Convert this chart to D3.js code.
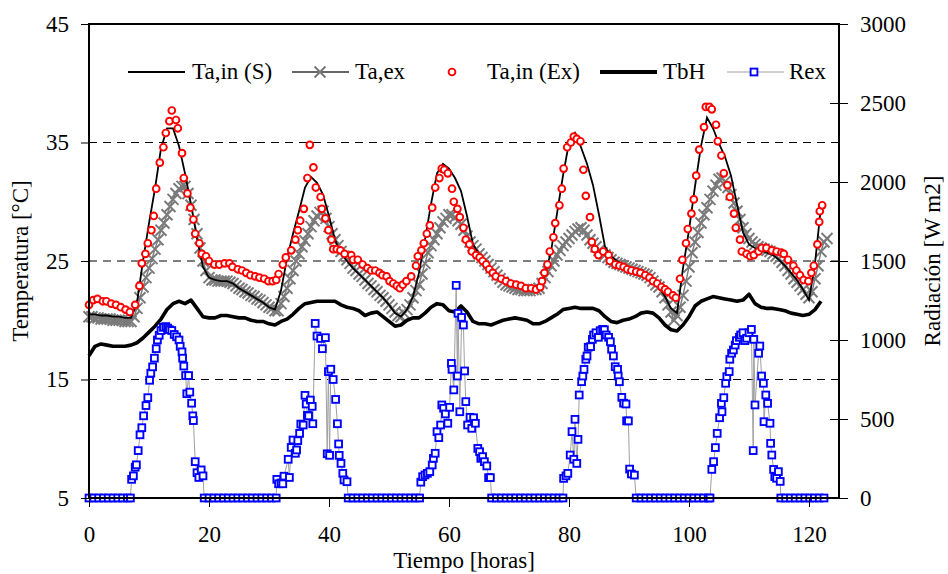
<!DOCTYPE html>
<html>
<head>
<meta charset="utf-8">
<script src="https://cdn.jsdelivr.net/npm/d3@7"></script>
<style>
  body { margin: 0; background: #fff; }
</style>
</head>
<body>
<svg id="chart" width="948" height="574"></svg>
<script>
// ticks
const timeTicks = [0, 20, 40, 60, 80, 100, 120];
const tempTicks = [5, 15, 25, 35, 45];
const radTicks = [0, 500, 1000, 1500, 2000, 2500, 3000];
const gridTemps = [15, 25, 35];
const legendNames = ["Ta,in (S)", "Ta,ex", "Ta,in (Ex)", "TbH", "Rex"];

// Ta,in (S) - simulated, hourly from t = 0
const taInS = [
  20.5,20.5,20.4,20.4,20.3,20.3,20.2,20.2,21.5,25.0,
  28.2,31.1,34.5,36.2,36.2,34.7,32.4,29.8,26.9,24.5,
  23.6,23.4,23.3,23.3,23.1,22.7,22.4,22.1,21.8,21.5,
  21.1,20.9,22.5,25.2,27.3,29.2,31.2,32.1,31.6,30.6,
  28.8,26.8,25.6,25.0,24.4,23.9,23.4,22.9,22.4,21.9,
  21.3,20.6,20.3,20.9,22.0,24.0,26.8,29.8,32.4,33.2,
  32.8,32.0,30.9,28.8,26.4,25.6,25.0,24.3,23.8,23.4,
  23.1,22.9,22.7,22.7,22.8,23.0,23.8,25.8,29.0,32.2,
  35.0,35.8,34.6,33.2,31.4,28.9,26.2,25.4,25.0,24.7,
  24.4,24.2,24.0,23.8,23.4,22.8,22.0,21.0,20.6,24.4,
  27.6,31.3,34.7,37.1,36.2,34.9,33.8,32.2,29.8,27.4,
  26.4,26.1,25.9,25.7,25.5,25.1,24.6,24.0,23.4,22.6,
  21.7,24.8,29.6
];

// TbH, hourly from t = 0
const tbH = [
  17.0,17.8,18.0,17.9,17.8,17.8,17.8,17.9,18.1,18.5,
  19.0,19.5,20.1,20.9,21.4,21.6,21.4,21.7,21.0,20.3,
  20.2,20.2,20.4,20.4,20.3,20.2,20.2,20.0,19.9,19.9,
  19.7,19.6,19.9,20.1,20.5,21.0,21.4,21.5,21.6,21.6,
  21.6,21.6,21.3,21.1,21.0,20.8,20.4,20.6,20.7,20.3,
  19.9,19.5,19.6,20.0,20.2,20.2,20.6,21.1,21.4,21.3,
  20.8,20.7,21.2,20.7,19.9,19.7,19.7,19.6,19.8,20.0,
  20.1,20.2,20.1,20.0,19.7,19.7,19.9,20.2,20.5,20.9,
  21.0,21.1,21.0,21.0,21.0,20.8,20.3,19.9,19.8,20.0,
  20.1,20.3,20.6,20.7,20.6,20.2,19.6,19.2,19.1,19.6,
  20.3,21.2,21.6,21.8,22.0,21.9,21.8,21.7,21.6,21.7,
  22.2,21.4,21.1,21.0,21.0,20.9,20.8,20.6,20.5,20.4,
  20.5,20.9,21.6
];

// Ta,ex, every half hour from t = 0
const taEx = [
  20.3,20.3,20.2,20.2,20.1,20.1,20.1,20.1,20.0,20.0,
  20.0,20.0,19.9,19.9,19.9,20.3,21.0,21.9,22.8,23.6,
  24.4,25.2,26.0,26.8,27.6,28.2,28.9,29.6,30.2,30.7,
  31.1,31.3,31.3,30.7,29.7,28.5,27.3,26.1,25.0,24.2,
  23.6,23.4,23.4,23.3,23.3,23.3,23.3,23.2,23.1,22.9,
  22.7,22.6,22.4,22.3,22.1,22.0,21.8,21.7,21.5,21.3,
  21.1,21.0,20.8,20.8,21.4,22.0,22.7,23.5,24.2,25.0,
  25.6,26.2,26.7,27.3,27.9,28.4,28.8,29.1,29.2,28.6,
  27.9,27.3,26.8,26.3,25.8,25.4,25.1,24.8,24.4,24.2,
  23.9,23.7,23.4,23.1,22.9,22.6,22.4,22.1,21.9,21.6,
  21.3,21.0,20.7,20.4,20.3,20.6,20.9,21.3,21.9,22.5,
  23.0,23.9,24.8,25.7,26.3,26.8,27.3,27.8,28.3,28.6,
  28.9,28.9,28.7,28.4,28.1,27.6,27.1,26.6,26.3,26.0,
  25.6,25.3,25.0,24.7,24.4,24.1,23.8,23.5,23.2,23.0,
  22.9,22.8,22.7,22.6,22.6,22.5,22.5,22.5,22.6,22.6,
  22.7,23.1,23.6,24.1,24.6,25.0,25.5,25.9,26.3,26.6,
  26.9,27.2,27.5,27.7,27.8,27.6,27.2,26.8,26.5,26.2,
  25.9,25.7,25.5,25.3,25.1,24.9,24.8,24.7,24.6,24.5,
  24.4,24.3,24.2,24.1,24.0,23.9,23.8,23.6,23.3,23.0,
  22.8,22.4,21.9,21.3,20.7,20.0,20.4,21.1,22.1,23.3,
  24.5,25.7,26.6,27.4,28.2,28.9,29.5,30.2,30.9,31.4,
  31.9,32.0,31.7,31.2,30.6,29.9,29.2,28.5,27.8,27.3,
  26.9,26.6,26.4,26.2,26.1,26.0,25.9,25.8,25.6,25.4,
  25.2,24.9,24.6,24.2,23.9,23.5,23.2,22.9,22.6,22.2,
  21.9,22.4,23.5,24.6,25.8,26.6,26.9
];

// Ta,in (Ex) - measured [hour, °C]
const taInEx = [
  [0.0,21.3],[0.7,21.7],[1.4,21.8],[2.3,21.6],[2.9,21.6],[3.7,21.4],[4.5,21.3],[5.3,21.1],[6.1,20.9],[6.8,20.7],
  [7.7,21.3],[8.4,22.9],[8.8,24.8],[9.4,25.6],[9.8,26.5],[10.4,27.6],[10.8,28.8],[11.2,31.1],[11.8,33.3],[12.4,34.6],
  [12.8,35.8],[13.4,36.8],[13.8,37.7],[14.5,36.9],[14.8,36.2],[15.5,34.1],[15.8,32.0],[16.4,30.7],[16.9,29.5],[17.4,28.5],
  [17.7,27.3],[18.4,26.5],[18.8,25.6],[19.5,25.4],[20.0,25.0],[20.9,24.7],[21.7,24.7],[22.6,24.8],[23.4,24.8],[23.9,24.5],
  [24.8,24.3],[25.5,24.2],[26.2,24.0],[26.9,23.8],[27.7,23.7],[28.4,23.6],[29.2,23.5],[29.9,23.3],[30.6,23.3],[31.2,23.4],
  [31.6,23.9],[32.3,24.7],[32.8,25.3],[33.7,25.9],[34.4,26.8],[34.8,27.6],[35.2,28.4],[35.8,29.4],[36.4,32.0],[36.8,34.8],
  [37.4,32.9],[37.8,31.2],[38.6,30.4],[38.8,29.4],[39.4,28.6],[39.9,27.6],[40.4,26.8],[40.7,26.0],[41.3,26.0],[41.9,25.9],
  [42.6,25.6],[43.7,25.5],[44.0,25.1],[44.8,25.1],[45.6,24.7],[46.4,24.4],[47.0,24.2],[47.7,24.2],[48.4,24.0],[48.9,23.8],
  [49.6,23.7],[50.1,23.3],[50.7,23.1],[51.3,22.9],[51.8,22.7],[52.3,23.0],[52.9,23.3],[53.7,23.7],[54.5,24.6],[54.8,25.4],
  [55.4,25.9],[55.8,26.5],[56.3,27.3],[56.8,28.0],[57.2,29.5],[57.7,31.2],[58.4,32.0],[58.8,32.8],[59.2,32.7],[59.8,32.4],
  [60.5,31.1],[60.8,30.0],[61.4,29.4],[61.8,28.7],[62.4,27.8],[62.8,26.8],[63.4,26.4],[63.8,25.8],[64.5,25.5],[65.1,25.3],
  [65.6,25.0],[66.2,24.7],[66.7,24.3],[67.3,24.0],[67.8,23.7],[68.7,23.5],[69.5,23.3],[70.3,23.1],[71.2,23.0],[72.0,22.9],
  [72.8,22.7],[73.7,22.7],[74.5,22.6],[75.2,22.8],[75.5,23.3],[75.9,24.0],[76.4,24.7],[76.8,25.8],[77.4,27.0],[77.7,28.2],
  [78.4,29.7],[78.8,31.1],[79.1,32.8],[79.7,34.6],[80.3,35.0],[80.8,35.5],[81.3,35.3],[81.9,35.1],[82.4,32.7],[82.8,30.5],
  [83.5,28.7],[83.8,26.6],[84.3,26.0],[84.9,25.5],[85.7,25.8],[86.6,25.5],[86.8,25.0],[87.7,24.7],[88.4,24.6],[89.1,24.5],
  [89.7,24.3],[90.4,24.2],[91.2,24.1],[91.9,24.0],[92.7,23.8],[93.4,23.6],[94.0,23.3],[94.7,23.1],[95.4,22.8],[96.0,22.6],
  [96.5,22.4],[97.3,22.1],[97.8,21.9],[98.5,23.5],[98.9,25.1],[99.5,26.5],[99.8,27.7],[100.4,29.0],[100.8,30.2],[101.2,32.2],
  [101.7,34.4],[102.5,36.3],[102.8,38.0],[103.4,38.0],[103.8,37.8],[104.5,36.5],[104.8,35.1],[105.4,33.9],[105.8,32.4],[106.4,31.4],
  [106.8,30.4],[107.5,29.0],[107.8,27.8],[108.5,26.8],[108.8,25.8],[109.6,25.6],[110.2,25.4],[110.8,25.5],[111.6,25.8],[112.1,26.1],
  [112.9,26.1],[113.8,25.9],[114.6,25.8],[115.4,25.7],[115.8,25.6],[116.5,25.1],[117.4,24.6],[117.9,24.2],[118.5,23.8],[119.1,23.4],
  [119.9,23.3],[120.4,24.0],[120.8,24.6],[121.4,26.4],[121.7,28.3],[121.8,29.2],[122.2,29.7]
];

// Rex - solar radiation [hour, W/m2]
const rex = [
  [0,0],[0.8,0],[1.6,0],[2.4,0],[3.2,0],[4.0,0],[4.8,0],[5.6,0],[6.4,0],[6.9,0],
  [7.1,118],[7.4,140],[7.7,195],[7.9,210],[8.2,300],[8.5,400],[8.8,445],[9.1,520],[9.5,585],[9.8,635],
  [10.1,745],[10.3,790],[10.6,830],[10.9,885],[11.2,945],[11.4,1000],[11.7,1030],[12.0,1060],[12.4,1080],[12.8,1085],
  [13.1,1075],[13.4,1065],[13.8,1060],[14.2,1035],[14.6,1020],[15.0,1000],[15.2,960],[15.5,925],[15.6,885],[15.8,835],
  [16.1,775],[16.3,660],[16.6,775],[16.8,670],[17.1,600],[17.3,520],[17.4,490],[17.7,230],[18.0,160],[18.3,130],
  [18.7,178],[19.0,140],[19.2,0],
  [20.0,0],[20.8,0],[21.6,0],[22.4,0],[23.2,0],[24.0,0],[24.8,0],[25.6,0],[26.4,0],[27.2,0],
  [28.0,0],[28.8,0],[29.6,0],[30.4,0],[31.2,0],
  [31.3,118],[31.6,90],[32.0,95],[32.3,90],[32.5,138],[33.2,245],[33.4,130],[33.7,320],[34.0,367],[34.4,283],
  [34.6,304],[34.8,363],[35.1,409],[35.3,468],[35.7,462],[36.0,650],[36.2,595],[36.4,523],[36.6,520],[36.9,620],
  [37.2,580],[37.3,470],[37.7,1105],[38.0,1025],[38.6,1010],[38.9,945],[39.4,1015],[39.7,280],[39.9,800],[40.1,270],
  [40.3,815],[40.7,750],[41.1,624],[41.4,470],[41.6,342],[41.7,270],[42.0,219],[42.3,156],[42.5,114],[43.0,103],
  [43.2,0],[44.0,0],[44.8,0],[45.6,0],[46.4,0],[47.2,0],[48.0,0],[48.8,0],[49.6,0],[50.4,0],
  [51.2,0],[52.0,0],[52.8,0],[53.6,0],[54.4,0],[55.1,0],
  [55.3,100],[55.6,135],[56.0,146],[56.4,156],[56.8,167],[57.2,209],[57.4,251],[57.7,283],[58.0,420],[58.3,382],
  [58.6,462],[58.8,589],[59.1,568],[59.4,532],[59.8,473],[60.1,574],[60.4,852],[60.5,814],[60.8,684],[61.2,1346],
  [61.4,772],[61.5,1169],[61.8,546],[62.1,1143],[62.4,1095],[62.6,804],[62.8,610],[63.1,462],[63.5,511],[63.8,441],
  [64.1,508],[64.4,473],[64.8,314],[65.1,293],[65.3,251],[65.6,262],[65.9,230],[66.3,203],[66.6,129],[66.9,129],
  [67.1,0],[67.9,0],[68.7,0],[69.5,0],[70.3,0],[71.1,0],[71.9,0],[72.7,0],[73.5,0],[74.3,0],
  [75.1,0],[75.9,0],[76.7,0],[77.5,0],[78.3,0],[79.0,0],
  [79.1,124],[79.5,140],[79.8,156],[80.2,272],[80.5,420],[80.8,245],[81.0,498],[81.3,219],[81.5,371],[81.7,652],
  [82.1,736],[82.3,772],[82.5,814],[82.8,878],[83.0,899],[83.2,954],[83.6,958],[83.9,1004],[84.1,1032],[84.5,1046],
  [84.9,1017],[85.2,1059],[85.6,1067],[85.9,1065],[86.2,1032],[86.6,1017],[86.9,989],[87.1,941],[87.4,899],[87.7,831],
  [88.1,814],[88.2,772],[88.4,736],[88.8,637],[89.1,600],[89.5,595],[89.6,488],[89.9,488],[90.1,183],[90.4,152],
  [90.9,145],[91.2,0],
  [92.0,0],[92.8,0],[93.6,0],[94.4,0],[95.2,0],[96.0,0],[96.8,0],[97.6,0],[98.4,0],[99.2,0],
  [100.0,0],[100.8,0],[101.6,0],[102.4,0],[103.2,0],[103.5,0],
  [103.8,181],[104.1,230],[104.4,319],[104.7,409],[105.1,508],[105.4,599],[105.5,546],[105.8,635],[106.1,726],[106.3,768],
  [106.7,800],[106.8,878],[107.1,916],[107.4,937],[107.7,968],[107.9,996],[108.4,1017],[108.6,1032],[109.0,1046],[109.3,996],
  [109.6,1011],[110.0,1046],[110.4,1067],[110.7,300],[110.8,1004],[111.0,589],[111.6,916],[111.8,962],[112.1,772],[112.4,726],
  [112.5,483],[112.8,652],[113.1,599],[113.5,473],[113.6,346],[113.8,272],[114.1,181],[114.3,135],[114.6,125],[114.9,167],
  [115.2,105],[115.3,0],
  [116.1,0],[116.9,0],[117.7,0],[118.5,0],[119.3,0],[120.1,0],[120.9,0],[121.7,0],[122.5,0]
];

const FONT = "'Liberation Serif', 'Times New Roman', Times, serif";
const FS = 23;

const svg = d3.select("#chart").style("font-family", FONT);

const x = d3.scaleLinear().domain([0, 125]).range([89, 839]);
const yT = d3.scaleLinear().domain([5, 45]).range([498, 24]);
const yR = d3.scaleLinear().domain([0, 3000]).range([498, 24]);

const sData = taInS.map((v, i) => [i, v]);
const bData = tbH.map((v, i) => [i, v]);
const exData = taEx.map((v, i) => [i / 2, v]);

const lineT = d3.line().x(d => x(d[0])).y(d => yT(d[1]));
const lineR = d3.line().x(d => x(d[0])).y(d => yR(d[1]));

const xMark = "M-5.5,-5.5L5.5,5.5M-5.5,5.5L5.5,-5.5";

// dashed grid
svg.append("g")
  .selectAll("line")
  .data(gridTemps)
  .join("line")
  .attr("x1", x(0)).attr("x2", x(125))
  .attr("y1", d => yT(d)).attr("y2", d => yT(d))
  .attr("stroke", "#000")
  .attr("stroke-width", 1)
  .attr("stroke-dasharray", "8,6");

// Ta,ex
svg.append("path")
  .datum(exData)
  .attr("d", lineT)
  .attr("fill", "none")
  .attr("stroke", "#7a7a7a")
  .attr("stroke-width", 1.4);
svg.append("g")
  .selectAll("path")
  .data(exData)
  .join("path")
  .attr("transform", d => `translate(${x(d[0])},${yT(d[1])})`)
  .attr("d", xMark)
  .attr("stroke", "#7a7a7a")
  .attr("stroke-width", 2)
  .attr("fill", "none");

// Ta,in (S)
svg.append("path")
  .datum(sData)
  .attr("d", lineT)
  .attr("fill", "none")
  .attr("stroke", "#000")
  .attr("stroke-width", 1.8);

// Ta,in (Ex)
svg.append("g")
  .selectAll("circle")
  .data(taInEx)
  .join("circle")
  .attr("cx", d => x(d[0]))
  .attr("cy", d => yT(d[1]))
  .attr("r", 3.4)
  .attr("fill", "#fff")
  .attr("stroke", "#ff0000")
  .attr("stroke-width", 1.9);

// TbH
svg.append("path")
  .datum(bData)
  .attr("d", lineT)
  .attr("fill", "none")
  .attr("stroke", "#000")
  .attr("stroke-width", 3.6)
  .attr("stroke-linejoin", "round");

// Rex
svg.append("path")
  .datum(rex)
  .attr("d", lineR)
  .attr("fill", "none")
  .attr("stroke", "#a0a0a0")
  .attr("stroke-width", 1);
svg.append("g")
  .selectAll("rect")
  .data(rex)
  .join("rect")
  .attr("x", d => x(d[0]) - 3.4)
  .attr("y", d => yR(d[1]) - 3.4)
  .attr("width", 6.8)
  .attr("height", 6.8)
  .attr("fill", "#fff")
  .attr("stroke", "#0000ff")
  .attr("stroke-width", 1.9);

// frame
svg.append("rect")
  .attr("x", 89).attr("y", 24)
  .attr("width", 750).attr("height", 474)
  .attr("fill", "none")
  .attr("stroke", "#000")
  .attr("stroke-width", 2);

// axes
function styleAxis(g) {
  g.select(".domain").remove();
  g.attr("font-size", null).attr("font-family", null);
  g.selectAll(".tick line").attr("stroke", "#000").attr("stroke-width", 1);
  g.selectAll(".tick text")
    .attr("fill", "#000")
    .style("font-family", FONT)
    .style("font-size", FS + "px");
}

svg.append("g")
  .attr("transform", "translate(89,0)")
  .call(d3.axisLeft(yT).tickValues(tempTicks).tickSize(8).tickPadding(12))
  .call(styleAxis);

svg.append("g")
  .attr("transform", "translate(839,0)")
  .call(d3.axisRight(yR).tickValues(radTicks).tickFormat(d3.format("d")).tickSize(9).tickPadding(12))
  .call(styleAxis)
  .call(g => g.selectAll(".tick line").attr("x1", -9));

svg.append("g")
  .attr("transform", "translate(0,498)")
  .call(d3.axisBottom(x).tickValues(timeTicks).tickSize(9).tickPadding(19))
  .call(styleAxis);

// axis titles
function title(sel) {
  sel.attr("text-anchor", "middle")
    .style("font-family", FONT)
    .style("font-size", FS + "px");
}

svg.append("text")
  .attr("transform", "translate(28,261) rotate(-90)")
  .call(title)
  .text("Temperatura [°C]");

svg.append("text")
  .attr("transform", "translate(940,261) rotate(-90)")
  .call(title)
  .text("Radiación [W m2]");

svg.append("text")
  .attr("x", 464)
  .attr("y", 568)
  .call(title)
  .text("Tiempo [horas]");

// legend
const leg = svg.append("g").attr("transform", "translate(0,72)");
const legX = [128, 292, 425, 600, 727];
const legText = [192, 355, 487, 663, 789];

leg.append("line").attr("x1", legX[0]).attr("x2", legX[0] + 57)
  .attr("stroke", "#000").attr("stroke-width", 1.8);
leg.append("line").attr("x1", legX[1]).attr("x2", legX[1] + 57)
  .attr("stroke", "#333").attr("stroke-width", 1.5);
leg.append("path").attr("transform", `translate(${legX[1] + 28},0)`)
  .attr("d", xMark).attr("stroke", "#7a7a7a").attr("stroke-width", 2);
leg.append("circle").attr("cx", 452).attr("cy", 0).attr("r", 3.4)
  .attr("fill", "#fff").attr("stroke", "#ff0000").attr("stroke-width", 1.9);
leg.append("line").attr("x1", legX[3]).attr("x2", legX[3] + 57)
  .attr("stroke", "#000").attr("stroke-width", 3.8);
leg.append("line").attr("x1", legX[4]).attr("x2", legX[4] + 57)
  .attr("stroke", "#a0a0a0").attr("stroke-width", 1);
leg.append("rect").attr("x", legX[4] + 27 - 3.4).attr("y", -3.4)
  .attr("width", 6.8).attr("height", 6.8)
  .attr("fill", "#fff").attr("stroke", "#0000ff").attr("stroke-width", 1.9);

leg.selectAll("text.lab")
  .data(legendNames)
  .join("text")
  .attr("class", "lab")
  .attr("x", (d, i) => legText[i])
  .attr("y", 7)
  .style("font-family", FONT)
  .style("font-size", FS + "px")
  .text(d => d);
</script>
</body>
</html>
